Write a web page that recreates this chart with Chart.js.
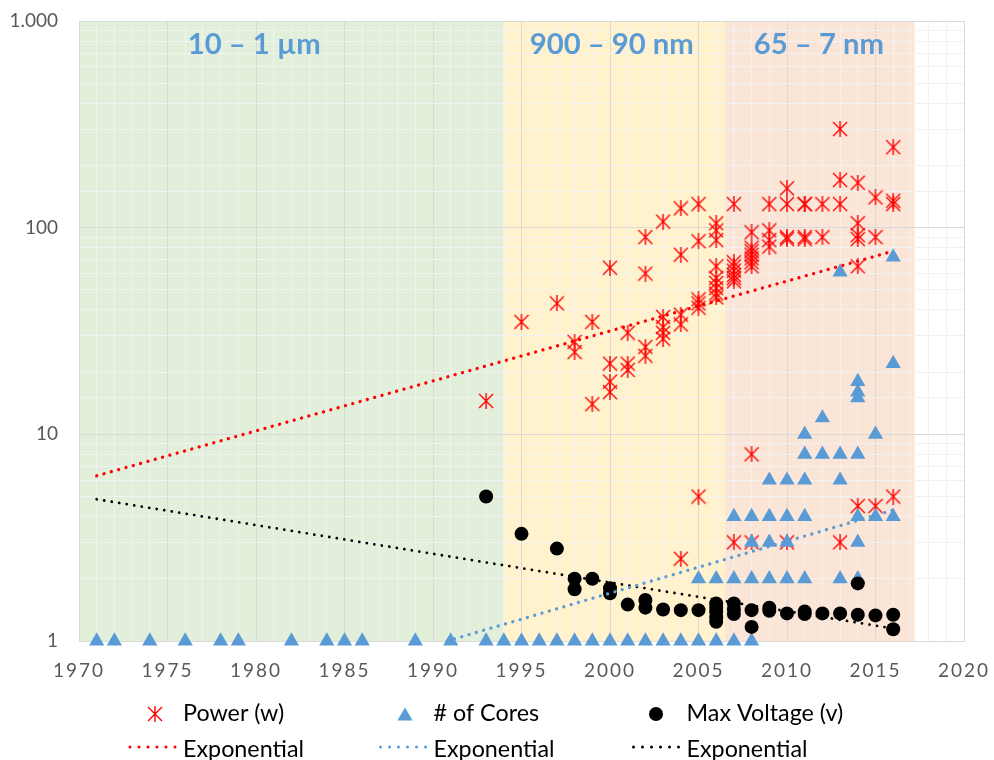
<!DOCTYPE html>
<html>
<head>
<meta charset="utf-8">
<script src="https://cdn.jsdelivr.net/npm/chart.js@4.4.1/dist/chart.umd.min.js"></script>
<style>
html,body{margin:0;padding:0;background:#ffffff;}
#wrap{width:994px;height:760px;position:relative;}
</style>
</head>
<body>
<div id="wrap"><canvas id="c" width="994" height="760"></canvas></div>
<script>
// ---------------- DATA ----------------
const powerYear = [
  1993,
  1995,
  1997,
  1998,1998,
  1999,1999,
  2000,2000,2000,2000,
  2001,2001,2001,
  2002,2002,2002,2002,
  2003,2003,2003,2003,2003,
  2004,2004,2004,2004,2004,
  2005,2005,2005,2005,2005,2005,
  2006,2006,2006,2006,2006,2006,2006,2006,2006,
  2007,2007,2007,2007,2007,2007,2007,2007,
  2008,2008,2008,2008,2008,2008,2008,2008,2008,
  2009,2009,2009,2009,
  2010,2010,2010,2010,2010,
  2011,2011,2011,2011,
  2012,2012,
  2013,2013,2013,2013,
  2014,2014,2014,2014,2014,2014,
  2015,2015,2015,
  2016,2016,2016,2016
];
const powerWatts = [
  14.5,
  35,
  43,
  28,25,
  35,14,
  64,22,18,16,
  31,22,20.5,
  90,60,26.5,24,
  107,37,33,31,29,
  124,74,38,34,2.5,
  130,86,45,43,41,5,
  105,97,87,65,57,54,51,48,46,
  130,68,65,62,59,57,55,3,
  95,80,77,74,71,68,65,8,3,
  130,97,87,81,
  155,130,90,88,3,
  130,130,90,88,
  130,90,
  300,170,130,3,
  165,105,92,88,65,4.5,
  140,90,4.5,
  245,135,130,5
];

const coresYear = [
  1971,1972,1974,1976,1978,1979,1982,1984,1985,1986,1989,1991,
  1993,1994,1995,1996,1997,1998,1999,2000,2001,2002,2003,2004,2005,2006,2007,2008,
  2005,2006,2007,2008,2009,2010,2011,2013,2014,
  2008,2009,2010,2014,
  2007,2008,2009,2010,2011,2014,2015,2016,
  2009,2010,2011,2013,
  2011,2012,2013,2014,
  2011,2015,
  2012,
  2014,2014,2014,
  2016,
  2013,
  2016
];
const coresCount = [
  1,1,1,1,1,1,1,1,1,1,1,1,
  1,1,1,1,1,1,1,1,1,1,1,1,1,1,1,1,
  2,2,2,2,2,2,2,2,2,
  3,3,3,3,
  4,4,4,4,4,4,4,4,
  6,6,6,6,
  8,8,8,8,
  10,10,
  12,
  15,16,18,
  22,
  61,
  72
];

const voltYear = [
  1993,1995,1997,1998,1998,1999,2000,2000,2001,2002,2002,2003,2004,2005,
  2006,2006,2006,2006,2006,2007,2007,2007,2008,2008,2009,2009,2010,2011,2011,
  2012,2013,2014,2014,2015,2016,2016
];
const voltMax = [
  5,3.3,2.8,2.0,1.78,2.0,1.8,1.7,1.5,1.58,1.45,1.42,1.41,1.41,
  1.52,1.45,1.38,1.3,1.24,1.52,1.42,1.35,1.41,1.17,1.45,1.4,1.36,1.39,1.35,
  1.36,1.36,1.9,1.34,1.33,1.34,1.14
];

// exponential trend lines (end points)
const powerTrendYear = [1971, 2016];
const powerTrendValue = [6.3, 77];
const coresTrendYear = [1990.8, 2016];
const coresTrendValue = [1.0, 4.3];
const voltTrendYear = [1971, 2016];
const voltTrendValue = [4.85, 1.15];

// technology node regions
const regionStart = [1970, 1994, 2006.5];
const regionEnd = [1994, 2006.5, 2017.2];
const regionLabel = ['10 – 1 µm', '900 – 90 nm', '65 – 7 nm'];
const regionLabelYear = [1979.9, 2000.1, 2011.8];

// axes
const xMin = 1970, xMax = 2020, xStep = 1, xLabelEvery = 5;
const yMin = 1, yMax = 1000;

// legend
const seriesNames = ['Power (w)', '# of Cores', 'Max Voltage (v)'];
const trendName = 'Exponential';

// ---------------- STYLE ----------------
const RED = '#FF0000', BLUE = '#5B9BD5', BLACK = '#000000';
const regionColors = ['#E2EFDA', '#FFF2CC', '#FBE5D6'];
const MAJOR_GRID = '#d9d9d9', MINOR_GRID = '#f2f2f2';
const FONT = 'Lato';

function zip(xs, ys){ return xs.map((x,i)=>({x:x, y:ys[i]})); }
function isPow10(v){ const l = Math.log10(v); return Math.abs(l - Math.round(l)) < 1e-9; }
function fmtThousands(v){ return String(Math.round(v)).replace(/\B(?=(\d{3})+(?!\d))/g, '.'); }

// star marker (x with vertical bar)
function makeStar(size, color, lw){
  const c = document.createElement('canvas');
  c.width = size; c.height = size;
  const g = c.getContext('2d');
  g.strokeStyle = color; g.lineWidth = lw;
  const m = 1, s = size;
  g.beginPath();
  g.moveTo(m, m); g.lineTo(s-m, s-m);
  g.moveTo(s-m, m); g.lineTo(m, s-m);
  g.moveTo(s/2, 0); g.lineTo(s/2, s);
  g.stroke();
  return c;
}
const starImg = makeStar(16, RED, 1.4);

function fitSize(ctx, text, target, weight){
  ctx.font = weight + ' 100px "' + FONT + '"';
  return 100 * target / ctx.measureText(text).width;
}

// ---------------- PLUGINS ----------------
const regionPlugin = {
  id: 'regions',
  beforeDraw(chart){
    const {ctx, chartArea:a, scales:{x}} = chart;
    ctx.save();
    for (let i = 0; i < regionStart.length; i++){
      const x0 = x.getPixelForValue(regionStart[i]);
      const x1 = x.getPixelForValue(regionEnd[i]);
      ctx.fillStyle = regionColors[i];
      ctx.fillRect(x0, a.top, x1 - x0, a.bottom - a.top);
    }
    ctx.restore();
    // letter spaced x tick labels
    const s = chart.scales.x;
    if (!s.__spaced){
      const orig = s.drawLabels;
      s.drawLabels = function(area){
        const c = this.ctx; c.save(); c.letterSpacing = '2px'; orig.call(this, area); c.restore();
      };
      s.__spaced = true;
    }
  },
  afterDatasetsDraw(chart){
    const {ctx, chartArea:a, scales:{x}} = chart;
    ctx.save();
    const size = fitSize(ctx, regionLabel[0], 133, 'bold');
    ctx.font = 'bold ' + size.toFixed(2) + 'px "' + FONT + '"';
    ctx.fillStyle = BLUE;
    ctx.textAlign = 'center';
    ctx.textBaseline = 'alphabetic';
    for (let i = 0; i < regionLabel.length; i++){
      ctx.fillText(regionLabel[i], x.getPixelForValue(regionLabelYear[i]), a.top + 32.5);
    }
    ctx.restore();
  }
};

const legendPlugin = {
  id: 'customLegend',
  afterDraw(chart){
    const ctx = chart.ctx;
    ctx.save();
    const size = fitSize(ctx, trendName, 121, 'normal');
    ctx.font = size.toFixed(2) + 'px "' + FONT + '"';
    ctx.fillStyle = '#000000';
    ctx.textAlign = 'left';
    ctx.textBaseline = 'alphabetic';
    const textX = [183, 433.5, 686.5];
    const markX = [155, 405, 656];
    const row1 = 714, row2 = 747;
    for (let i = 0; i < 3; i++) ctx.fillText(seriesNames[i], textX[i], row1 + 7);
    for (let i = 0; i < 3; i++) ctx.fillText(trendName, textX[i], row2 + 9.5);
    ctx.drawImage(starImg, markX[0] - 8, row1 - 8);
    const r = 8.8, tx = markX[1], ty = row1 + 2.2;
    ctx.fillStyle = BLUE;
    ctx.beginPath();
    ctx.moveTo(tx, ty - r);
    ctx.lineTo(tx + r * Math.sin(2*Math.PI/3), ty + r/2);
    ctx.lineTo(tx - r * Math.sin(2*Math.PI/3), ty + r/2);
    ctx.closePath(); ctx.fill();
    ctx.fillStyle = BLACK;
    ctx.beginPath(); ctx.arc(markX[2], row1, 7, 0, Math.PI*2); ctx.fill();
    const cols = [RED, BLUE, BLACK];
    ctx.lineCap = 'round'; ctx.lineWidth = 3;
    ctx.setLineDash([0.001, 9]);
    for (let i = 0; i < 3; i++){
      ctx.strokeStyle = cols[i];
      ctx.beginPath(); ctx.moveTo(textX[i] - 53, row2); ctx.lineTo(textX[i] - 7, row2); ctx.stroke();
    }
    ctx.restore();
  }
};

// ---------------- CHART ----------------
const trendBase = {
  showLine: true, pointRadius: 0, pointHoverRadius: 0, borderWidth: 3.3,
  borderDash: [0.001, 7.6], borderCapStyle: 'round', fill: false, clip: false
};

new Chart(document.getElementById('c'), {
  type: 'scatter',
  data: {
    datasets: [
      Object.assign({}, trendBase, {label: trendName, data: zip(powerTrendYear, powerTrendValue), borderColor: RED, order: 0}),
      Object.assign({}, trendBase, {label: trendName, data: zip(coresTrendYear, coresTrendValue), borderColor: BLUE, order: 1}),
      Object.assign({}, trendBase, {label: trendName, data: zip(voltTrendYear, voltTrendValue), borderColor: BLACK, borderWidth: 2.8, order: 2}),
      {label: seriesNames[0], data: zip(powerYear, powerWatts), pointStyle: starImg, pointRadius: 8,
       pointBackgroundColor: RED, pointBorderColor: RED, pointBorderWidth: 0, clip: false, order: 5},
      {label: seriesNames[1], data: zip(coresYear, coresCount), pointStyle: 'triangle', pointRadius: 8.8,
       pointBackgroundColor: BLUE, pointBorderColor: BLUE, pointBorderWidth: 0, clip: false, order: 4},
      {label: seriesNames[2], data: zip(voltYear, voltMax), pointStyle: 'circle', pointRadius: 7,
       pointBackgroundColor: BLACK, pointBorderColor: BLACK, pointBorderWidth: 0, clip: false, order: 3}
    ]
  },
  options: {
    responsive: false,
    animation: false,
    events: [],
    layout: { padding: { left: 0, top: 21, right: 30, bottom: 79 } },
    plugins: { legend: { display: false }, tooltip: { enabled: false } },
    scales: {
      x: {
        type: 'linear', min: xMin, max: xMax,
        ticks: {
          stepSize: xStep, autoSkip: false, maxRotation: 0, minRotation: 0, padding: 18,
          color: '#595959', font: { family: FONT, size: 19 },
          callback: (v) => (Math.round(v) % xLabelEvery === 0 ? String(Math.round(v)) : '')
        },
        grid: {
          drawTicks: false, lineWidth: 1,
          color: (c) => (c.tick && Math.round(c.tick.value) % xLabelEvery === 0 ? MAJOR_GRID : MINOR_GRID)
        },
        border: { color: MAJOR_GRID },
        afterFit: (s) => { s.height = 40; s.paddingLeft = 0; s.paddingRight = 0; }
      },
      y: {
        type: 'logarithmic', min: yMin, max: yMax,
        ticks: {
          autoSkip: false, padding: 21, color: '#595959', font: { family: FONT, size: 19 },
          callback: (v) => (isPow10(v) ? fmtThousands(v) : '')
        },
        grid: {
          drawTicks: false, lineWidth: 1,
          color: (c) => (c.tick && isPow10(c.tick.value) ? MAJOR_GRID : MINOR_GRID)
        },
        border: { color: MAJOR_GRID },
        afterFit: (s) => { s.width = 79; s.paddingTop = 0; s.paddingBottom = 0; }
      }
    }
  },
  plugins: [regionPlugin, legendPlugin]
});
</script>
</body>
</html>
